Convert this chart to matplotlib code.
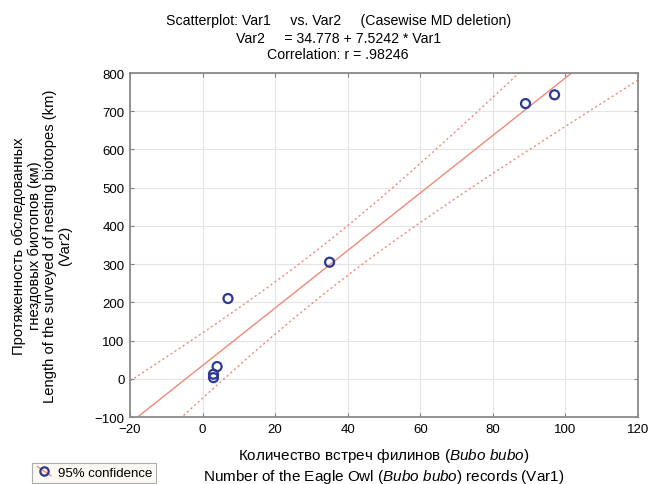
import numpy as np
import matplotlib.pyplot as plt
from matplotlib.lines import Line2D
from matplotlib.legend_handler import HandlerBase

plt.rcParams['font.family'] = ['Liberation Sans', 'DejaVu Sans']
plt.rcParams['mathtext.fontset'] = 'custom'
plt.rcParams['mathtext.rm'] = 'Liberation Sans'
plt.rcParams['mathtext.it'] = 'Liberation Sans:italic'

# Var1: Bubo bubo records, Var2: length of surveyed biotopes (km)
var1 = [3, 3, 4, 7, 35, 89, 97]
var2 = [3, 12, 32, 210, 305, 720, 743]
intercept = 34.778
slope = 7.5242
t_crit = 2.571  # t(0.975, df=5)

x_ticks = [-20, 0, 20, 40, 60, 80, 100, 120]
y_ticks = [-100, 0, 100, 200, 300, 400, 500, 600, 700, 800]

col_pt = '#2b3990'
col_ln = '#f08878'

x = np.array(var1, dtype=float)
y = np.array(var2, dtype=float)
n = len(x)
resid = y - (intercept + slope * x)
s = np.sqrt(np.sum(resid ** 2) / (n - 2))
sxx = np.sum((x - x.mean()) ** 2)

xs = np.linspace(-20, 120, 200)
fit = intercept + slope * xs
half = t_crit * s * np.sqrt(1.0 / n + (xs - x.mean()) ** 2 / sxx)

fig = plt.figure(figsize=(6.58, 4.85), dpi=100)
ax = fig.add_axes([0.1976, 0.1381, 0.772, 0.7093])

ax.plot(xs, fit, color=col_ln, lw=1.0)
ax.plot(xs, fit + half, color=col_ln, lw=1.0, ls=(0, (1.5, 2)))
ax.plot(xs, fit - half, color=col_ln, lw=1.0, ls=(0, (1.5, 2)))
ax.scatter(x, y, s=42, facecolors='none', edgecolors=col_pt, linewidths=1.6, zorder=3)

ax.set_xlim(-20, 120)
ax.set_ylim(-100, 800)
ax.set_xticks(x_ticks)
ax.set_yticks(y_ticks)
ax.grid(True, color='#e4e4e4', lw=0.8)
ax.set_axisbelow(True)
ax.tick_params(direction='in', top=True, right=True, length=3, color='#808080',
               labelsize=9.5, pad=4)
for sp in ax.spines.values():
    sp.set_color('#8a8a8a')
    sp.set_linewidth(1.3)

fig.text(0.514, 0.956, 'Scatterplot: Var1     vs. Var2     (Casewise MD deletion)',
         ha='center', va='center', fontsize=10.2)
fig.text(0.514, 0.920, 'Var2     = 34.778 + 7.5242 * Var1',
         ha='center', va='center', fontsize=10.2)
fig.text(0.514, 0.886, 'Correlation: r = .98246',
         ha='center', va='center', fontsize=10.2)

ax.set_xlabel('Количество встреч филинов ($\\it{Bubo\\ bubo}$)\n'
              'Number of the Eagle Owl ($\\it{Bubo\\ bubo}$) records (Var1)',
              fontsize=11, linespacing=1.25, labelpad=8)
ax.set_ylabel('Протяженность обследованных\nгнездовых биотопов (км)\n'
              'Length of the surveyed of nesting biotopes (km)\n(Var2)',
              fontsize=10.6, linespacing=1.12, labelpad=16, multialignment='center')


class DiagHandler(HandlerBase):
    def create_artists(self, legend, orig, xd, yd, w, h, fontsize, trans):
        ln = Line2D([xd + 0.1 * w, xd + 0.9 * w], [yd + h, yd], color=col_ln, lw=0.9,
                    transform=trans)
        mk = Line2D([xd + 0.5 * w], [yd + 0.5 * h], marker='o', ms=6, mfc='none',
                    mec=col_pt, mew=1.6, ls='none', transform=trans)
        return [ln, mk]


h = Line2D([], [])
leg = fig.legend([h], ['95% confidence'], handler_map={Line2D: DiagHandler()},
                 loc='lower left', bbox_to_anchor=(0.046, 0.0), fontsize=9.5,
                 frameon=True, fancybox=False, handlelength=1.3, handletextpad=0.4,
                 borderpad=0.3, borderaxespad=0.1)
leg.get_frame().set_facecolor('#fbf8ef')
leg.get_frame().set_edgecolor('#9a9a9a')
leg.get_frame().set_linewidth(0.8)

fig.savefig('out.png', dpi=100)
